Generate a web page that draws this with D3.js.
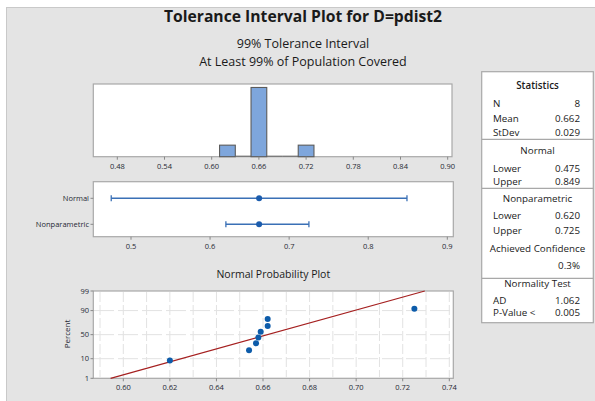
<!DOCTYPE html>
<html><head><meta charset="utf-8">
<script src="https://cdn.jsdelivr.net/npm/d3@7"></script>
<style>
html,body{margin:0;padding:0;background:#fff;}
text{font-family:"Open Sans","Noto Sans",sans-serif;}
</style></head>
<body><svg id="c" width="595" height="401"></svg>
<script>
// ---- data ----
const titleLines = ["Tolerance Interval Plot for D=pdist2","99% Tolerance Interval","At Least 99% of Population Covered"];
const histBinStarts = [0.61,0.63,0.65,0.67,0.69,0.71];
const histCounts = [1,0,6,0,0,1];
const histBinWidth = 0.02;
const histTicks = [0.48,0.54,0.60,0.66,0.72,0.78,0.84,0.90];
const intervalNames = ["Normal","Nonparametric"];
const intervalLower = [0.475,0.620];
const intervalUpper = [0.849,0.725];
const intervalMean = [0.662,0.662];
const intervalTicks = [0.5,0.6,0.7,0.8,0.9];
const sampleValues = [0.620,0.654,0.657,0.658,0.659,0.662,0.662,0.725];
const probXTicks = [0.60,0.62,0.64,0.66,0.68,0.70,0.72,0.74];
const probGrid = [0.59,0.60,0.61,0.62,0.63,0.64,0.65,0.66,0.67,0.68,0.69,0.70,0.71,0.72,0.73,0.74];
const probYTicks = [1,10,50,90,99];
const fitMean = 0.662, fitSd = 0.029;
const statSections = [
  {head:"Statistics", rows:[["N","8"],["Mean","0.662"],["StDev","0.029"]]},
  {head:"Normal", rows:[["Lower","0.475"],["Upper","0.849"]]},
  {head:"Nonparametric", rows:[["Lower","0.620"],["Upper","0.725"]], extra:["Achieved Confidence","0.3%"]},
  {head:"Normality Test", rows:[["AD","1.062"],["P-Value <","0.005"]]}
];

// inverse normal cdf (Acklam)
function qnorm(p){
  const a=[-39.69683028665376,220.9460984245205,-275.9285104469687,138.3577518672690,-30.66479806614716,2.506628277459239];
  const b=[-54.47609879822406,161.5858368580409,-155.6989798598866,66.80131188771972,-13.28068155288572];
  const c=[-0.007784894002430293,-0.3223964580411365,-2.400758277161838,-2.549732539343734,4.374664141464968,2.938163982698783];
  const d=[0.007784695709041462,0.3224671290700398,2.445134137142996,3.754408661907416];
  const pl=0.02425;let q,r;
  if(p<pl){q=Math.sqrt(-2*Math.log(p));return (((((c[0]*q+c[1])*q+c[2])*q+c[3])*q+c[4])*q+c[5])/((((d[0]*q+d[1])*q+d[2])*q+d[3])*q+1);}
  if(p>1-pl){q=Math.sqrt(-2*Math.log(1-p));return -(((((c[0]*q+c[1])*q+c[2])*q+c[3])*q+c[4])*q+c[5])/((((d[0]*q+d[1])*q+d[2])*q+d[3])*q+1);}
  q=p-0.5;r=q*q;return (((((a[0]*r+a[1])*r+a[2])*r+a[3])*r+a[4])*r+a[5])*q/(((((b[0]*r+b[1])*r+b[2])*r+b[3])*r+b[4])*r+1);
}

const svg = d3.select("#c");
const tickCol = "#1f2833", frameCol = "#a8a8a8", txtCol = "#1a1a1a";
svg.append("rect").attr("x",6.5).attr("y",7.5).attr("width",600).attr("height",400)
  .attr("fill","#e4e4e4").attr("stroke","#c9c9c9");

// titles
svg.append("text").attr("x",303).attr("y",22).attr("text-anchor","middle")
  .attr("font-size",15.7).attr("font-weight",700).attr("fill",txtCol).text(titleLines[0]);
svg.append("text").attr("x",303).attr("y",47.5).attr("text-anchor","middle")
  .attr("font-size",12.5).attr("fill",txtCol).text(titleLines[1]);
svg.append("text").attr("x",303).attr("y",65.5).attr("text-anchor","middle")
  .attr("font-size",12.5).attr("fill",txtCol).text(titleLines[2]);

function panel(x0,y0,x1,y1){
  svg.append("rect").attr("x",x0).attr("y",y0).attr("width",x1-x0).attr("height",y1-y0)
    .attr("fill","#fff").attr("stroke",frameCol).attr("stroke-width",1.2);
}
function xTicks(scale, ticks, yBase, fmt, labelY){
  const g = svg.append("g");
  ticks.forEach(t=>{
    const x = scale(t);
    g.append("line").attr("x1",x).attr("x2",x).attr("y1",yBase).attr("y2",yBase+3).attr("stroke","#888");
    g.append("text").attr("x",x).attr("y",labelY).attr("text-anchor","middle")
      .attr("font-size",7.5).attr("fill",tickCol).text(fmt(t));
  });
}

// ---- histogram ----
const hx = d3.scaleLinear().domain([0.48,0.90]).range([117.3,447.7]);
const hy = d3.scaleLinear().domain([0,6.3]).range([156.7,84]);
panel(93.3,84,452,156.7);
histBinStarts.forEach((s,i)=>{
  const c = histCounts[i];
  if(c>0){
    svg.append("rect").attr("x",hx(s)).attr("y",hy(c)).attr("width",hx(s+histBinWidth)-hx(s))
      .attr("height",hy(0)-hy(c)).attr("fill","#7ea6dc").attr("stroke","#5b5b5b").attr("stroke-width",1.1);
  } else {
    svg.append("line").attr("x1",hx(s)).attr("x2",hx(s+histBinWidth)).attr("y1",hy(0)-0.5).attr("y2",hy(0)-0.5)
      .attr("stroke","#6a6a6a").attr("stroke-width",1.1);
  }
});
xTicks(hx, histTicks, 156.7, d3.format(".2f"), 168.5);

// ---- interval plot ----
const ix = d3.scaleLinear().domain([0.5,0.9]).range([131,447.3]);
const iy = d3.scalePoint().domain(intervalNames).range([198.3,224.3]);
panel(93.3,181.7,453.3,236.7);
intervalNames.forEach((n,i)=>{
  const y = iy(n), col="#3a70b6";
  svg.append("line").attr("x1",ix(intervalLower[i])).attr("x2",ix(intervalUpper[i])).attr("y1",y).attr("y2",y)
    .attr("stroke",col).attr("stroke-width",1.5);
  [intervalLower[i],intervalUpper[i]].forEach(v=>{
    svg.append("line").attr("x1",ix(v)).attr("x2",ix(v)).attr("y1",y-3).attr("y2",y+3)
      .attr("stroke",col).attr("stroke-width",1.3);
  });
  svg.append("circle").attr("cx",ix(intervalMean[i])).attr("cy",y).attr("r",3).attr("fill","#1b5cad");
  svg.append("text").attr("x",89).attr("y",y+2.7).attr("text-anchor","end")
    .attr("font-size",7.5).attr("fill",tickCol).text(n);
  svg.append("line").attr("x1",90.5).attr("x2",93.3).attr("y1",y).attr("y2",y).attr("stroke","#888");
});
xTicks(ix, intervalTicks, 236.7, d3.format(".1f"), 248.5);

// ---- normal probability plot ----
svg.append("text").attr("x",273.3).attr("y",278).attr("text-anchor","middle")
  .attr("font-size",10.5).attr("fill",txtCol).text("Normal Probability Plot");
const px = d3.scaleLinear().domain([0.60,0.74]).range([123.3,449.3]);
const zMax = qnorm(0.99);
const py = d3.scaleLinear().domain([-zMax,zMax]).range([378.3,291]);
panel(93.3,291,453.3,378.3);
probGrid.forEach(v=>{
  const x = px(v);
  if(x>94 && x<452.5)
    svg.append("line").attr("x1",x).attr("x2",x).attr("y1",292).attr("y2",377.5)
      .attr("stroke","#e2e2e2").attr("stroke-width",1).attr("stroke-dasharray","10,3");
});
probYTicks.forEach(p=>{
  const y = py(qnorm(p/100));
  if(p>1 && p<99)
    svg.append("line").attr("x1",94).attr("x2",452.5).attr("y1",y).attr("y2",y)
      .attr("stroke","#e2e2e2").attr("stroke-width",1).attr("stroke-dasharray","20,4");
  svg.append("line").attr("x1",90.5).attr("x2",93.3).attr("y1",y).attr("y2",y).attr("stroke","#888");
  svg.append("text").attr("x",89).attr("y",y+2.6).attr("text-anchor","end")
    .attr("font-size",7.5).attr("fill",tickCol).text(p);
});
svg.append("text").attr("transform","translate(70,334) rotate(-90)").attr("text-anchor","middle")
  .attr("font-size",8).attr("fill",tickCol).text("Percent");
// fitted line
const zs = [-zMax, zMax];
svg.append("line")
  .attr("x1",px(fitMean+zs[0]*fitSd)).attr("y1",py(zs[0]))
  .attr("x2",px(fitMean+zs[1]*fitSd)).attr("y2",py(zs[1]))
  .attr("stroke","#a52020").attr("stroke-width",1.2);
const nS = sampleValues.length;
sampleValues.forEach((v,i)=>{
  const p = (i+1-0.3)/(nS+0.4);
  svg.append("circle").attr("cx",px(v)).attr("cy",py(qnorm(p))).attr("r",3).attr("fill","#0d5caa");
});
xTicks(px, probXTicks, 378.3, d3.format(".2f"), 389.5);

// ---- statistics panel ----
const sx0=481.7, sx1=593.3, sTop=71.7, sBot=322.7;
svg.append("rect").attr("x",sx0).attr("y",sTop).attr("width",sx1-sx0).attr("height",sBot-sTop)
  .attr("fill","#fff").attr("stroke",frameCol).attr("stroke-width",1.2);
const headY=[85.7,150.3,198.3,283.3];
const dividers=[139.3,188.3,278.3];
const rowYs=[[103,118.3,132.3],[168.3,181],[215.7,230.7],[300.7,312.3]];
dividers.forEach(y=>svg.append("line").attr("x1",sx0).attr("x2",sx1).attr("y1",y).attr("y2",y)
  .attr("stroke",frameCol).attr("stroke-width",1.2));
const cx = (sx0+sx1)/2;
const fs = 9.8;
statSections.forEach((s,i)=>{
  svg.append("text").attr("x",cx).attr("y",headY[i]+3.5).attr("text-anchor","middle")
    .attr("font-size",fs).attr("font-weight",i===0?600:500).attr("fill",txtCol).text(s.head);
  s.rows.forEach((r,j)=>{
    const y=rowYs[i][j]+3.5;
    svg.append("text").attr("x",493).attr("y",y).attr("font-size",fs).attr("font-weight",500)
      .attr("fill",txtCol).text(r[0]);
    svg.append("text").attr("x",580).attr("y",y).attr("text-anchor","end").attr("font-size",fs)
      .attr("font-weight",500).attr("fill",txtCol).text(r[1]);
  });
  if(s.extra){
    svg.append("text").attr("x",cx).attr("y",248.3+3.5).attr("text-anchor","middle")
      .attr("font-size",fs).attr("font-weight",500).attr("fill",txtCol).text(s.extra[0]);
    svg.append("text").attr("x",580).attr("y",265.7+3.5).attr("text-anchor","end")
      .attr("font-size",fs).attr("font-weight",500).attr("fill",txtCol).text(s.extra[1]);
  }
});
</script></body></html>
